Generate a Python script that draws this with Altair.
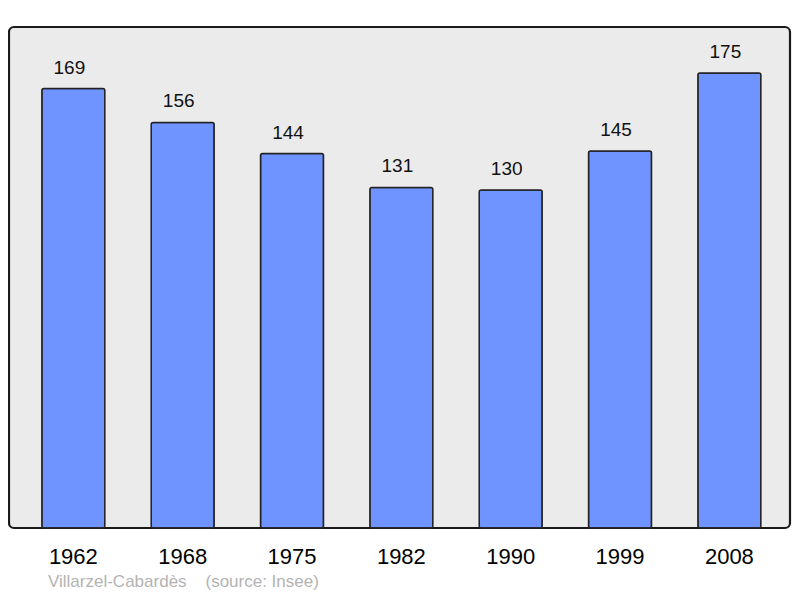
import altair as alt
import pandas as pd

years = ["1962", "1968", "1975", "1982", "1990", "1999", "2008"]
population = [169, 156, 144, 131, 130, 145, 175]

df = pd.DataFrame({"year": years, "pop": population})

FONT = "Liberation Sans"

x = alt.X("year:N", sort=years, title=None,
          scale=alt.Scale(paddingInner=0.424, paddingOuter=0.2835, align=0.53),
          axis=alt.Axis(ticks=False, domain=False, labelAngle=0, labelFontSize=22,
                        labelFont=FONT, labelColor="#000", labelBaseline="alphabetic",
                        labelPadding=35))
y = alt.Y("pop:Q", title=None, scale=alt.Scale(domain=[0, 192.7], nice=False),
          axis=None)

bars = alt.Chart(df).mark_bar(color="#7094ff", stroke="#222", strokeWidth=1.5,
                              cornerRadius=2).encode(x=x, y=y)
labels = alt.Chart(df).mark_text(fontSize=19, font=FONT, color="#111", dy=-15, dx=-4,
                                 baseline="alphabetic").encode(x=x, y=y, text="pop:Q")

chart = (bars + labels).properties(
    width=781, height=501,
    autosize=alt.AutoSizeParams(type="none"),
    padding={"left": 1, "top": 19, "right": 2, "bottom": 68},
    title=alt.TitleParams(text="Villarzel-Cabard\u00e8s\u00a0\u00a0\u00a0\u00a0(source: Insee)",
                          orient="bottom", anchor="start", fontSize=17, font=FONT,
                          fontWeight="normal", color="#b3b3b3", offset=7, dx=39),
).configure(background="white"
).configure_view(fill="#ebebeb", stroke="#1a1a1a", strokeWidth=2.2, cornerRadius=5)

chart.save("out.html", embed_options={"renderer": "svg", "actions": False})
